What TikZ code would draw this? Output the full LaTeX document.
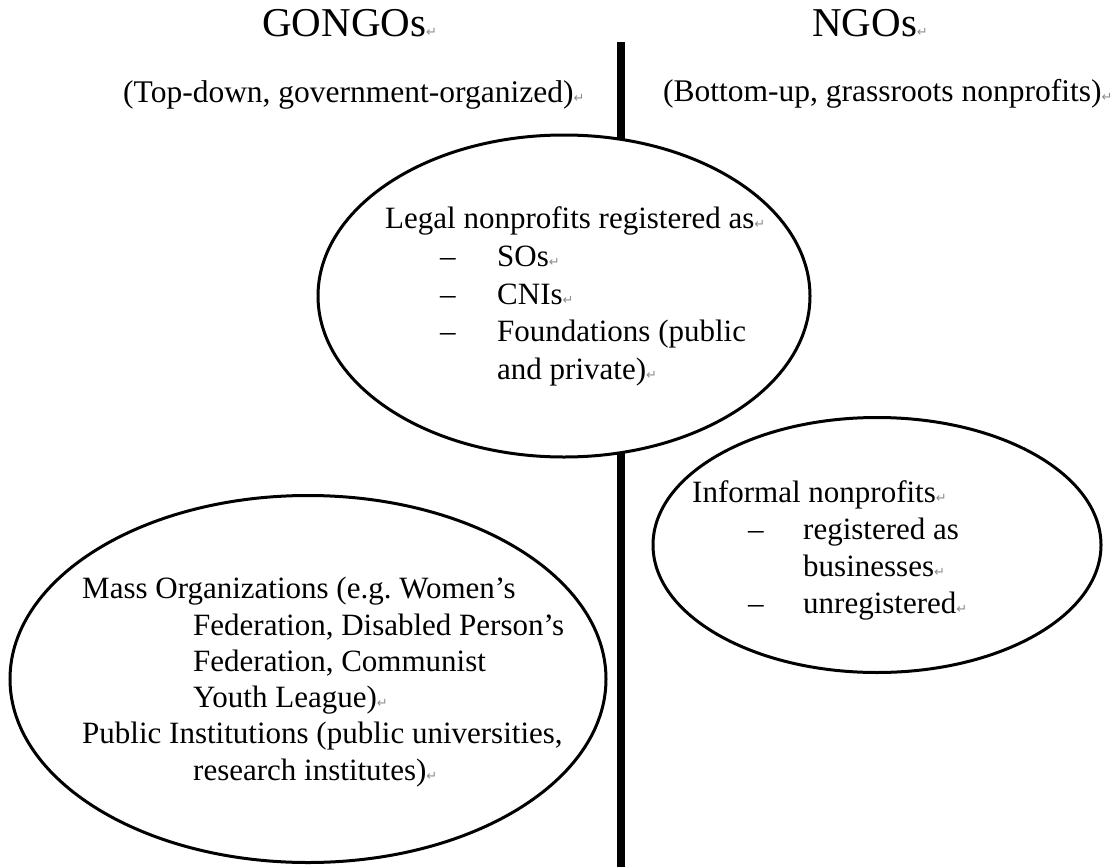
\documentclass[tikz,border=0pt]{standalone}
\usepackage{fontspec}
\setmainfont{Liberation Serif}
\newfontfamily\markfont{DejaVu Sans}
\usetikzlibrary{shapes.geometric}
% grey end-of-paragraph mark
\newcommand{\parmk}{{\markfont\fontsize{13}{13}\selectfont\color{black!45}↵}}
\begin{document}
\begin{tikzpicture}[x=1pt,y=-1pt,
  body/.style={anchor=base west, inner sep=0pt, font=\fontsize{31}{37}\selectfont},
  sub/.style={anchor=base west, inner sep=0pt, font=\fontsize{31.5}{37}\selectfont},
  head/.style={anchor=base west, inner sep=0pt, font=\fontsize{41}{48}\selectfont},
  bubble/.style={draw=black, line width=3pt, fill=white, ellipse, inner sep=0pt}]
\fill[white] (0,0) rectangle (1113,867);
\useasboundingbox (0,0) rectangle (1113,867);

% dividing bar between the two sides
\coordinate (divtop) at (621,42);
\coordinate (divbot) at (621,867);
\draw[line width=8pt] (divtop) -- (divbot);

% the three groups
\node[bubble, minimum width=492pt, minimum height=322pt] (legal) at (564,296) {};
\node[bubble, minimum width=448pt, minimum height=255pt] (informal) at (877,545) {};
\node[bubble, minimum width=596pt, minimum height=367pt] (mass) at (308,679) {};

% column headings
\node[head] (gongos) at (262,37) {GONGOs\parmk};
\node[head] (ngos) at (812,37) {NGOs\parmk};
\node[sub] (topdown) at (123,102) {(Top-down, government-organized)\parmk};
\node[sub] (bottomup) at (663,101) {(Bottom-up, grassroots nonprofits)\parmk};

% legal nonprofits
\node[body] (lg1) at (385,228) {Legal nonprofits registered as\parmk};
\node[body] (lgd1) at (440,266) {–};
\node[body] (lg2) at (497,266) {SOs\parmk};
\node[body] (lgd2) at (440,304) {–};
\node[body] (lg3) at (497,304) {CNIs\parmk};
\node[body] (lgd3) at (440,341) {–};
\node[body] (lg4) at (497,341) {Foundations (public};
\node[body] (lg5) at (497,379) {and private)\parmk};

% informal nonprofits
\node[body] (in1) at (692,502) {Informal nonprofits\parmk};
\node[body] (ind1) at (748,539) {–};
\node[body] (in2) at (803,539) {registered as};
\node[body] (in3) at (803,576) {businesses\parmk};
\node[body] (ind2) at (748,613) {–};
\node[body] (in4) at (803,613) {unregistered\parmk};

% mass organizations and public institutions
\node[body] (ms1) at (82,598) {Mass Organizations (e.g.\ Women’s};
\node[body] (ms2) at (193,635) {Federation, Disabled Person’s};
\node[body] (ms3) at (193,671) {Federation, Communist};
\node[body] (ms4) at (193,707) {Youth League)\parmk};
\node[body] (ms5) at (82,743) {Public Institutions (public universities,};
\node[body] (ms6) at (193,780) {research institutes)\parmk};
\end{tikzpicture}
\end{document}
